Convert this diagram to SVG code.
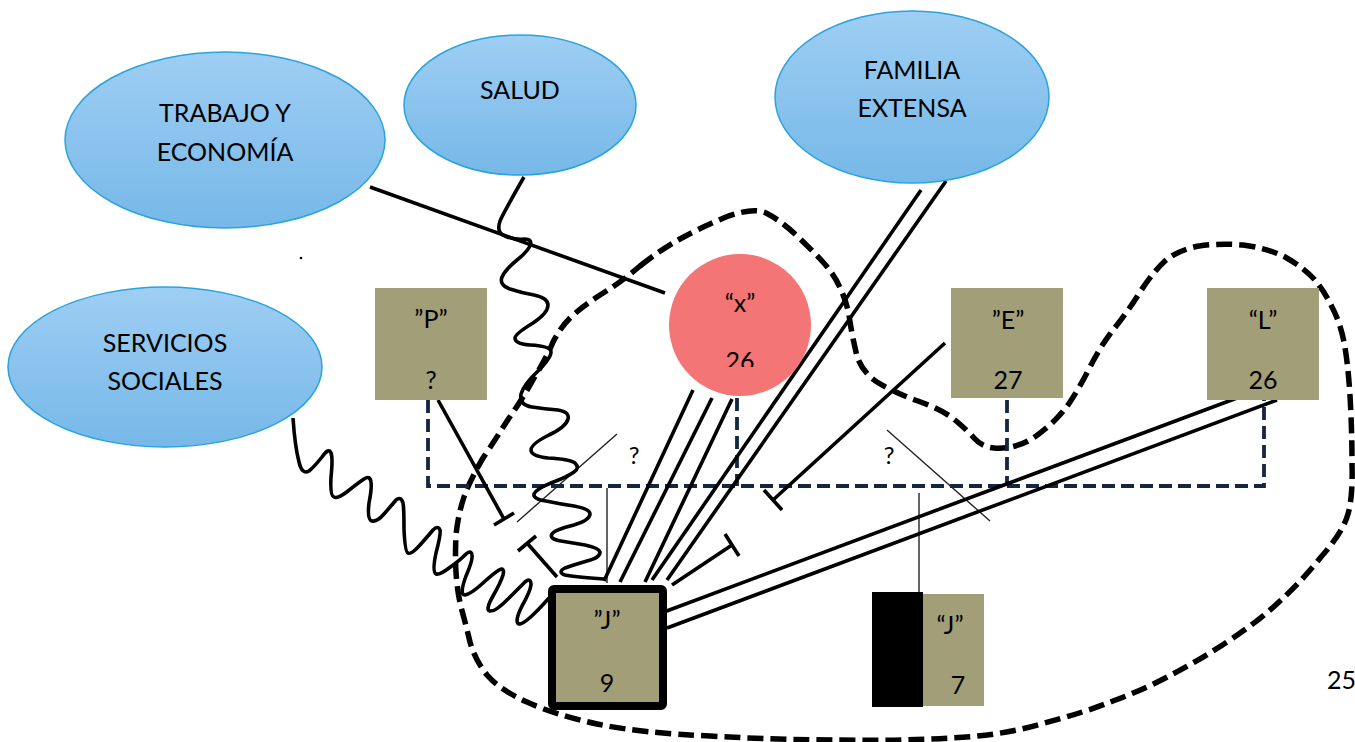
<svg xmlns="http://www.w3.org/2000/svg" width="1355" height="742" viewBox="0 0 1355 742">
<defs>
<linearGradient id="blue" x1="0" y1="0" x2="0" y2="1">
<stop offset="0" stop-color="#9ecef3"/>
<stop offset="1" stop-color="#76b8e8"/>
</linearGradient>
<clipPath id="clipx"><rect x="660" y="250" width="160" height="117"/></clipPath>
<style>
.ell{fill:url(#blue);stroke:#2aa3dc;stroke-width:1.5}
.box{fill:#a29e78}
.t{font-family:Lato,"Liberation Sans",sans-serif;font-size:25px;fill:#000;text-anchor:middle}
.q{font-family:Lato,"Liberation Sans",sans-serif;font-size:24px;fill:#000;text-anchor:middle}
.ln{stroke:#000;stroke-width:3.6;fill:none;stroke-linecap:butt}
.thin{stroke:#222;stroke-width:1.4;fill:none}
.fam{stroke:#152640;stroke-width:3.8;fill:none;stroke-dasharray:13 6}
.blob{stroke:#000;stroke-width:5.5;fill:none;stroke-dasharray:16 7}
.wave{stroke:#000;stroke-width:3.6;fill:none;stroke-linejoin:round}
</style>
</defs>
<rect width="1355" height="742" fill="#fff"/>

<g id="boundary">
<path class="blob" d="M640,266 Q660,250 680,239 Q700,228 726,217 Q753,207 766,213 Q780,220 795,234 Q810,248 822,261 Q835,275 841,290 Q848,305 850,322 Q853,340 857,356 Q862,372 877,382 Q893,392 918,401 Q943,410 955,420 Q967,430 974,438 Q982,447 994,448 Q1007,449 1018,445 Q1030,442 1045,429 Q1060,417 1070,402 Q1080,387 1090,367 Q1100,347 1113,330 Q1127,313 1140,292 Q1153,272 1165,261 Q1178,250 1199,246 Q1220,243 1243,245 Q1267,248 1285,257 Q1303,267 1314,279 Q1325,292 1332,307 Q1340,322 1344,342 Q1348,363 1350,396 Q1352,430 1352,463 Q1353,497 1348,514 Q1343,532 1321,557 Q1300,583 1280,601 Q1260,620 1230,640 Q1200,660 1171,675 Q1143,690 1113,701 Q1083,713 1041,724 Q1000,736 950,738 Q900,741 840,740 Q780,740 710,736 Q640,733 597,724 Q555,715 527,702 Q500,690 487,675 Q475,660 470,642 Q466,625 461,607 Q457,590 456,572 Q455,555 456,535 Q458,515 464,497 Q470,480 483,458 Q497,437 509,418 Q522,400 534,378 Q547,357 553,342 Q560,328 570,318 Q580,308 600,295 Q620,283 640,266 Z"/>
</g>

<g id="connectors">
<path class="fam" d="M428,400 V486 H1264 V400 M737,398 V486 M1007,400 V486"/>
<line class="thin" x1="607" y1="488" x2="607" y2="583"/>
<line class="thin" x1="919" y1="493" x2="919" y2="594"/>
<line class="thin" x1="517" y1="522" x2="617" y2="434"/>
<line class="thin" x1="887" y1="430" x2="990" y2="521"/>
<text class="q" x="634" y="464">?</text>
<text class="q" x="889" y="464">?</text>
<line class="ln" x1="370" y1="187" x2="665" y2="293"/>
<line class="ln" x1="693" y1="390" x2="604" y2="581"/>
<line class="ln" x1="712" y1="398" x2="620" y2="582"/>
<line class="ln" x1="732" y1="399" x2="645" y2="582"/>
<line class="ln" x1="921" y1="190" x2="652" y2="580"/>
<line class="ln" x1="946" y1="181" x2="667" y2="580"/>
<line class="ln" x1="1237" y1="398" x2="664" y2="612"/>
<line class="ln" x1="1277" y1="400" x2="667" y2="628"/>
<line class="ln" x1="438" y1="400" x2="504" y2="519"/>
<line class="ln" x1="494" y1="525" x2="514" y2="513"/>
<line class="ln" x1="557" y1="577" x2="527" y2="543"/>
<line class="ln" x1="518" y1="551" x2="536" y2="536"/>
<line class="ln" x1="945" y1="343" x2="773" y2="500"/>
<line class="ln" x1="764" y1="490" x2="782" y2="510"/>
<line class="ln" x1="672" y1="585" x2="732" y2="545"/>
<line class="ln" x1="725" y1="534" x2="739" y2="556"/>
<path class="wave" d="M524,177 Q505,210 500,221 Q496,233 505,236 Q514,240 524,239 Q533,239 530,246 Q527,252 517,260 Q505,270 502,277 Q499,285 510,289 Q522,293 534,295 Q548,298 548,305 Q548,313 533,323 Q515,334 515,338 Q515,344 530,345 Q551,346 551,352 Q551,358 538,371 Q524,384 521,394 Q519,405 532,407 Q545,409 558,410 Q570,412 568,419 Q566,427 549,435 Q531,444 531,450 Q531,456 548,458 Q569,459 575,463 Q580,468 574,472 Q567,477 551,483 Q536,489 534,494 Q533,499 546,501 Q560,504 574,506 Q590,509 590,514 Q590,520 574,525 Q554,530 552,534 Q549,539 561,541 Q573,543 585,545 Q599,548 600,552 Q600,558 587,561 Q573,565 565,568 Q557,572 565,575 Q575,577 604,579"/>
<path class="wave" d="M293,418 Q295,447 299,462 Q302,475 309,471 Q314,467 322,457 Q329,447 331,453 Q333,458 331,477 Q330,496 334,497 Q338,499 348,491 Q358,483 364,479 Q370,475 371,482 Q372,488 369,503 Q367,520 372,521 Q377,522 384,514 Q391,506 396,500 Q401,496 403,503 Q404,508 404,529 Q405,552 408,553 Q411,555 420,545 Q428,536 433,530 Q438,525 440,530 Q441,534 436,553 Q432,572 436,574 Q440,575 449,568 Q459,561 465,555 Q471,549 472,555 Q473,560 466,576 Q459,595 465,595 Q471,594 483,583 Q494,573 499,570 Q505,567 503,575 Q501,582 493,596 Q485,610 490,611 Q495,612 507,600 Q519,588 525,582 Q531,577 531,585 Q530,592 522,606 Q514,622 519,624 Q525,625 549,598"/>
</g>

<g id="trabajo">
<ellipse class="ell" cx="225" cy="140" rx="160" ry="88"/>
<text class="t" x="225" y="122">TRABAJO Y</text>
<text class="t" x="225" y="161">ECONOMÍA</text>
</g>
<g id="salud">
<ellipse class="ell" cx="520" cy="105" rx="116" ry="70"/>
<text class="t" x="520" y="99">SALUD</text>
</g>
<g id="familia">
<ellipse class="ell" cx="912" cy="97" rx="137" ry="86"/>
<text class="t" x="912" y="79">FAMILIA</text>
<text class="t" x="912" y="117">EXTENSA</text>
</g>
<g id="servicios">
<ellipse class="ell" cx="165" cy="367" rx="157" ry="80"/>
<text class="t" x="165" y="352">SERVICIOS</text>
<text class="t" x="165" y="390">SOCIALES</text>
</g>

<circle id="dot" cx="301" cy="258" r="1.3" fill="#000"/>

<g id="P">
<rect class="box" x="375" y="288" width="112" height="112"/>
<text class="t" x="431" y="328">”P”</text>
<text class="t" x="431" y="389">?</text>
</g>
<g id="X">
<circle cx="740" cy="325" r="71" fill="#f47575"/>
<text class="t" x="740" y="312">“x”</text>
<text class="t" x="740" y="370" clip-path="url(#clipx)">26</text>
</g>
<g id="E">
<rect class="box" x="951" y="288" width="112" height="110"/>
<text class="t" x="1008" y="329">”E”</text>
<text class="t" x="1008" y="389">27</text>
</g>
<g id="L">
<rect class="box" x="1207" y="288" width="112" height="112"/>
<text class="t" x="1263" y="329">“L”</text>
<text class="t" x="1263" y="389">26</text>
</g>
<g id="J9">
<rect class="box" x="552" y="589" width="111" height="117" stroke="#000" stroke-width="8" rx="2"/>
<text class="t" x="607" y="629">”J”</text>
<text class="t" x="607" y="692">9</text>
</g>
<g id="J7">
<rect x="872" y="592" width="51" height="115" fill="#000"/>
<rect class="box" x="923" y="594" width="61" height="112"/>
<text class="t" x="950" y="634">“J”</text>
<text class="t" x="958" y="694">7</text>
</g>
<text class="t" x="1327" y="689" style="text-anchor:start">25</text>
</svg>
